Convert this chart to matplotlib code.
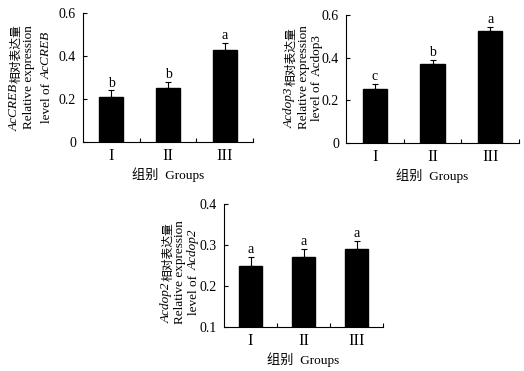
import numpy as np
import matplotlib
matplotlib.use("Agg")
import matplotlib.pyplot as plt

plt.rcParams["font.family"] = ["Liberation Serif", "Noto Sans CJK SC"]

groups = ["I", "II", "III"]

creb_vals = [0.21, 0.25, 0.43]
creb_err = [0.03, 0.03, 0.03]
creb_sig = ["b", "b", "a"]

dop3_vals = [0.255, 0.37, 0.525]
dop3_err = [0.02, 0.02, 0.02]
dop3_sig = ["c", "b", "a"]

dop2_vals = [0.25, 0.27, 0.29]
dop2_err = [0.02, 0.02, 0.02]
dop2_sig = ["a", "a", "a"]

W, H = 524, 371
fig = plt.figure(figsize=(W / 100, H / 100), dpi=100)
renderer = fig.canvas.get_renderer()


def px_axes(l, t, r, b):
    return fig.add_axes([l / W, 1 - b / H, (r - l) / W, (b - t) / H])


def panel(ax, vals, err, sig, ylim, yticks, yticklabels):
    x = np.arange(1, len(vals) + 1)
    ax.bar(x, [v - ylim[0] for v in vals], bottom=ylim[0], width=0.42,
           color="black", edgecolor="black")
    ax.errorbar(x, vals, yerr=[np.zeros(len(err)), err], fmt="none",
                ecolor="black", elinewidth=0.8, capsize=2, capthick=0.8)
    for xi, v, e, s in zip(x, vals, err, sig):
        ax.text(xi, v + e + 0.004 * (ylim[1] - ylim[0]) / 0.6, s,
                ha="center", va="bottom", fontsize=10)
    ax.set_xlim(0.5, 3.5)
    ax.set_ylim(*ylim)
    ax.set_yticks(yticks)
    ax.set_yticklabels(yticklabels, fontsize=10)
    ax.set_xticks(x)
    ax.set_xticklabels(groups, fontsize=12)
    ax.tick_params(axis="x", length=0, pad=4)
    ax.tick_params(axis="y", direction="in", length=3, width=0.8, pad=5)
    ax.set_xticks([1.5, 2.5, 3.5], minor=True)
    ax.tick_params(axis="x", which="minor", direction="in", length=3, width=0.8)
    for s in ["top", "right"]:
        ax.spines[s].set_visible(False)
    for s in ["left", "bottom"]:
        ax.spines[s].set_linewidth(0.8)
    ax.set_xlabel("组别  Groups", fontsize=9.5, labelpad=3)


ax1 = px_axes(83, 13, 253, 142)
panel(ax1, creb_vals, creb_err, creb_sig, (0, 0.6),
      [0, 0.2, 0.4, 0.6], ["0", "0.2", "0.4", "0.6"])
ax2 = px_axes(346, 15, 519, 143)
panel(ax2, dop3_vals, dop3_err, dop3_sig, (0, 0.6),
      [0, 0.2, 0.4, 0.6], ["0", "0.2", "0.4", "0.6"])
ax3 = px_axes(224, 204, 383, 327)
panel(ax3, dop2_vals, dop2_err, dop2_sig, (0.1, 0.4),
      [0.1, 0.2, 0.3, 0.4], ["0.1", "0.2", "0.3", "0.4"])

FS = 9.5


def vline_pieces(xp, yc, pieces):
    # pieces (text, italic, size, shift) stacked bottom-to-top, rotated 90
    lens = []
    for txt, it, fs, dx in pieces:
        t = fig.text(0, 0, txt, rotation=90, fontsize=fs,
                     style="italic" if it else "normal")
        lens.append(t.get_window_extent(renderer).height + 1)
        t.remove()
    y = yc + sum(lens) / 2
    xb = xp + 4  # baseline sits right of the visual centre
    for (txt, it, fs, dx), ln in zip(pieces, lens):
        fig.text((xb + dx) / W, 1 - y / H, txt, rotation=90, fontsize=fs,
                 style="italic" if it else "normal",
                 ha="left", va="baseline", rotation_mode="anchor")
        y -= ln


def ylabel_lines(xs, yc, gene, gene_it3):
    vline_pieces(xs[0], yc, [(gene, True, FS, 0),
                             ("相对表达量", False, 8.5, 1)])
    vline_pieces(xs[1], yc, [("Relative expression", False, FS, 0)])
    vline_pieces(xs[2], yc, [("level of ", False, FS, 0),
                             (gene, gene_it3, FS, 0)])


ylabel_lines([14, 28, 46], 77, "AcCREB", True)
ylabel_lines([289, 303, 316], 77, "Acdop3", False)
ylabel_lines([166, 179, 193], 272, "Acdop2", True)

fig.savefig("out.png", dpi=100)
